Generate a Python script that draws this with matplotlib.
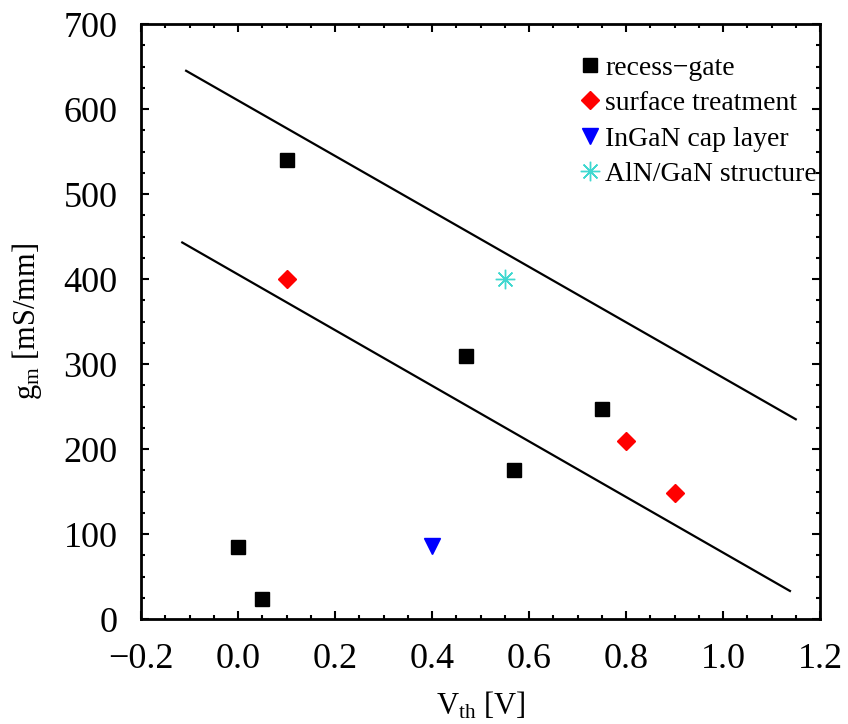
import matplotlib
matplotlib.use("Agg")
import matplotlib.pyplot as plt
from matplotlib.ticker import MultipleLocator

plt.rcParams['font.family'] = ['Liberation Serif', 'DejaVu Serif']
plt.rcParams['mathtext.fontset'] = 'custom'
plt.rcParams['mathtext.rm'] = 'Liberation Serif'
plt.rcParams['mathtext.it'] = 'Liberation Serif'

# data
recess_vth = [0.0, 0.05, 0.10, 0.47, 0.57, 0.75]
recess_gm = [85, 23, 540, 310, 175, 247]
surface_vth = [0.10, 0.80, 0.90]
surface_gm = [400, 209, 148]
ingan_vth = [0.40]
ingan_gm = [86]
aln_vth = [0.55]
aln_gm = [400]

# guide lines (end points)
upper_x = [-0.107, 1.150]
upper_y = [645, 235]
lower_x = [-0.115, 1.138]
lower_y = [443, 33]

fig = plt.figure(figsize=(8.48, 7.24), dpi=100)
ax = fig.add_axes([0.1663, 0.145, 0.8007, 0.8218])

ax.plot(upper_x, upper_y, 'k-', lw=1.6)
ax.plot(lower_x, lower_y, 'k-', lw=1.6)

ax.plot(recess_vth, recess_gm, 's', color='black', ms=10, ls='none',
        label='recess\u2212gate')
ax.plot(surface_vth, surface_gm, 'D', color='red', ms=9, ls='none',
        label='surface treatment')
ax.plot(ingan_vth, ingan_gm, 'v', color='blue', ms=12, ls='none',
        label='InGaN cap layer')
ax.plot(aln_vth, aln_gm, ls='none', color='#40d8d0', ms=14,
        marker=(8, 2, 0), mew=1.0, label='AlN/GaN structure')

ax.set_xlim(-0.2, 1.2)
ax.set_ylim(0, 700)
ax.xaxis.set_major_locator(MultipleLocator(0.2))
ax.xaxis.set_minor_locator(MultipleLocator(0.05))
ax.yaxis.set_major_locator(MultipleLocator(100))
ax.yaxis.set_minor_locator(MultipleLocator(25))
ax.set_xticks([-0.2, 0.0, 0.2, 0.4, 0.6, 0.8, 1.0, 1.2])
ax.set_xticklabels(['\u22120.2', '0.0', '0.2', '0.4', '0.6', '0.8', '1.0', '1.2'])

ax.tick_params(which='both', direction='in', top=True, right=True,
               width=1.5, labelsize=26, pad=17)
ax.tick_params(which='major', length=6)
ax.tick_params(which='minor', length=3)
for s in ax.spines.values():
    s.set_linewidth(2)

ax.set_xlabel(r'V$_{\mathrm{th}}$ [V]', fontsize=22, labelpad=10)
ax.set_ylabel(r'g$_{\mathrm{m}}$ [mS/mm]', fontsize=22, labelpad=14)

ax.legend(loc='upper right', bbox_to_anchor=(1.028, 0.985), frameon=False,
          fontsize=20, handletextpad=0.15, handlelength=0.8,
          borderaxespad=0.2, borderpad=0.6, labelspacing=0.36)

fig.savefig('out.png', dpi=100)
